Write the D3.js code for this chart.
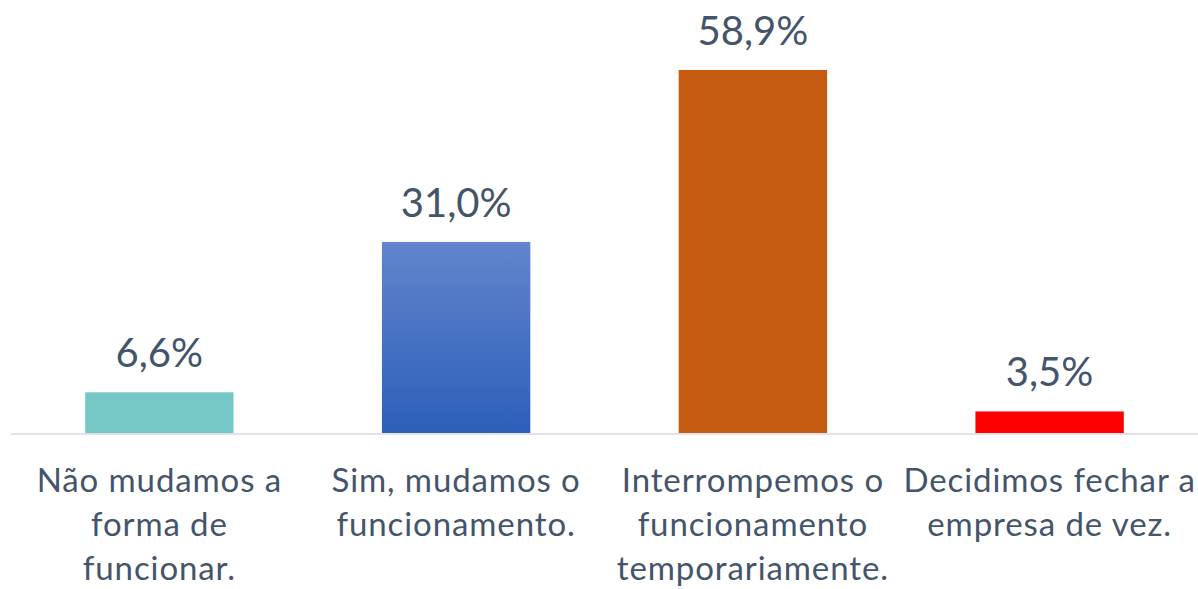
<!DOCTYPE html>
<html>
<head>
<meta charset="utf-8">
<script src="https://cdn.jsdelivr.net/npm/d3@7"></script>
<style>
  html, body { margin: 0; padding: 0; background: #fff; }
  svg { display: block; }
</style>
</head>
<body>
<div id="chart"></div>
<script>
// data
const categories = ['nao', 'sim', 'interrompemos', 'fechar'];
const values = [6.6, 31.0, 58.9, 3.5];
const valueLabels = ['6,6%', '31,0%', '58,9%', '3,5%'];
const tickLabels = [
  ['Não mudamos a', 'forma de', 'funcionar.'],
  ['Sim, mudamos o', 'funcionamento.'],
  ['Interrompemos o', 'funcionamento', 'temporariamente.'],
  ['Decidimos fechar a', 'empresa de vez.']
];
const colors = ['#75c8c5', 'url(#blueGrad)', '#c55a11', '#ff0000'];

const width = 1198, height = 589;
const baseY = 433;
const textColor = '#44546a';
const font = 'Lato, "Open Sans", sans-serif';

const svg = d3.select('#chart').append('svg')
  .attr('width', width)
  .attr('height', height);

const grad = svg.append('defs').append('linearGradient')
  .attr('id', 'blueGrad')
  .attr('x1', 0).attr('y1', 0).attr('x2', 0).attr('y2', 1);
grad.append('stop').attr('offset', '0%').attr('stop-color', '#6284cc');
grad.append('stop').attr('offset', '100%').attr('stop-color', '#2c5fb9');

const x = d3.scaleBand()
  .domain(categories)
  .range([11, 1198])
  .paddingInner(0.5)
  .paddingOuter(0.25);

const y = d3.scaleLinear()
  .domain([0, 58.9])
  .range([baseY, 70]);

svg.selectAll('rect.bar')
  .data(values)
  .join('rect')
  .attr('class', 'bar')
  .attr('x', (d, i) => x(categories[i]))
  .attr('y', d => y(d))
  .attr('width', x.bandwidth())
  .attr('height', d => baseY - y(d))
  .attr('fill', (d, i) => colors[i]);

// axis line
svg.append('line')
  .attr('x1', 11).attr('x2', 1198)
  .attr('y1', baseY + 1).attr('y2', baseY + 1)
  .attr('stroke', '#e0e3e8')
  .attr('stroke-width', 2);

// value labels
svg.selectAll('text.val')
  .data(values)
  .join('text')
  .attr('class', 'val')
  .attr('x', (d, i) => x(categories[i]) + x.bandwidth() / 2)
  .attr('y', d => y(d) - 25)
  .attr('text-anchor', 'middle')
  .attr('font-family', font)
  .attr('font-size', 40)
  .attr('fill', textColor)
  .text((d, i) => valueLabels[i]);

// category labels
const cat = svg.selectAll('text.cat')
  .data(tickLabels)
  .join('text')
  .attr('class', 'cat')
  .attr('text-anchor', 'middle')
  .attr('font-family', font)
  .attr('font-size', 33)
  .attr('letter-spacing', 0.9)
  .attr('fill', textColor);

cat.selectAll('tspan')
  .data((lines, i) => lines.map(l => ({ l, i })))
  .join('tspan')
  .attr('x', d => x(categories[d.i]) + x.bandwidth() / 2)
  .attr('y', (d, j) => 492 + j * 44)
  .text(d => d.l);
</script>
</body>
</html>
